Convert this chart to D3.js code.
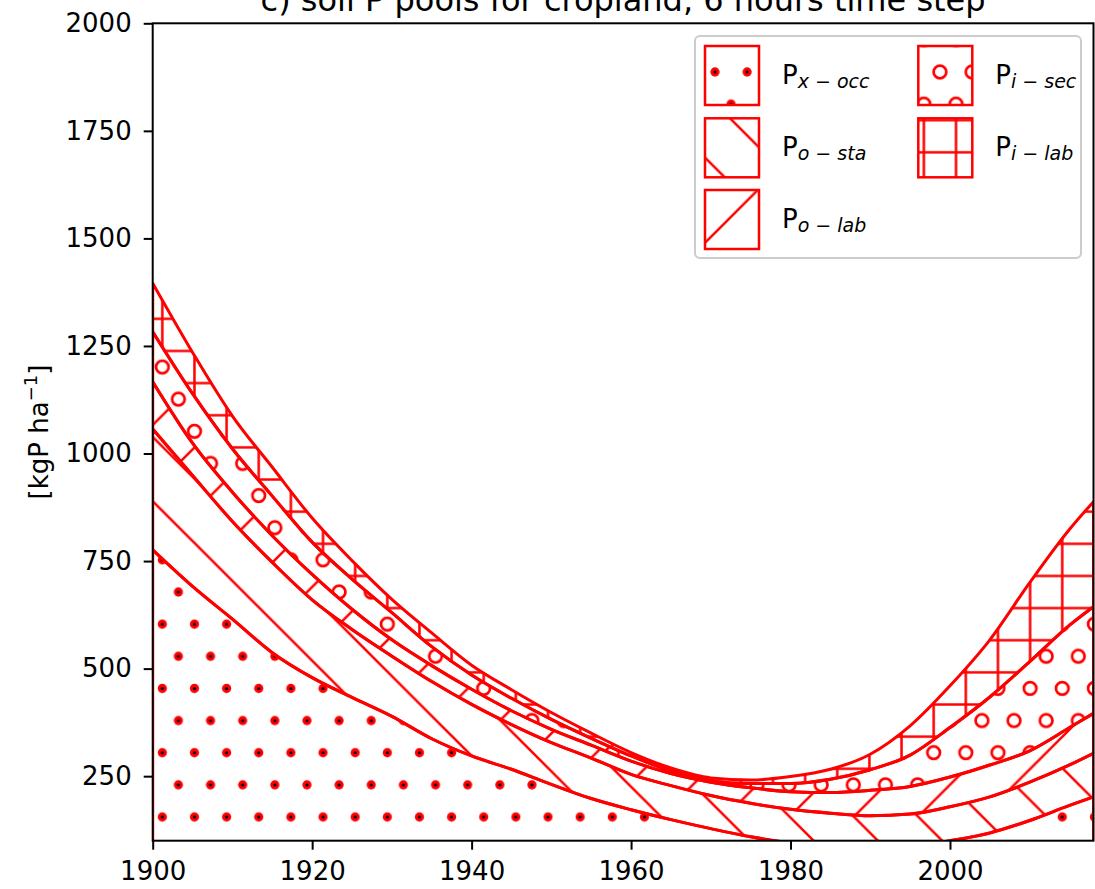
<!DOCTYPE html>
<html>
<head>
<meta charset="utf-8">
<script src="https://cdn.jsdelivr.net/npm/d3@7"></script>
<style>
body { margin: 0; background: #fff; }
svg { font-family: "DejaVu Sans", sans-serif; }
.sub { white-space: pre; }
</style>
</head>
<body>
<svg id="chart" width="1095" height="889"></svg>
<script>
// soil P pools for cropland, kgP/ha
var years = [1900,1905,1910,1915,1920,1925,1930,1935,1940,1945,1950,1955,1960,
             1965,1970,1975,1980,1985,1990,1995,2000,2005,2010,2015,2018];
var xOcc = [776,691,615,537,479,433,389,337,297,266,231,198,172,149,128,109,95,85,82,86,100,118,147,182,202];
var oSta = [281,258,227,210,181,158,140,133,120,104,97,94,82,79,77,78,78,79,76,76,79,84,89,94,101];
var oLab = [110,75,68,62,59,47,38,37,35,32,31,30,31,28,31,36,41,48,59,64,69,74,73,87,93];
var iSec = [116,115,101,92,75,70,63,44,33,29,23,16,12,6,3,10,19,31,48,73,115,158,207,238,248];
var iLab = [113,96,76,67,56,43,31,32,23,20,16,12,8,7,7,8,16,23,36,68,97,133,184,223,244];

var keys = ["xOcc","oSta","oLab","iSec","iLab"];
var subs = ["x − occ","o − sta","o − lab","i − sec","i − lab"];
var xTicks = [1900,1920,1940,1960,1980,2000];
var yTicks = [250,500,750,1000,1250,1500,1750,2000];

var red = "#ff0000";
var s = 32.14;
var hw = 2.5;

var svg = d3.select("#chart");
var defs = svg.append("defs");

var x = d3.scaleLinear().domain([1900,2018]).range([152.7,1093.5]);
var y = d3.scaleLinear().domain([100,2000]).range([840.7,23.3]);

function addPatterns(id, ox, oy){
  var p = defs.append("pattern").attr("id",id+"xOcc").attr("patternUnits","userSpaceOnUse")
    .attr("x",ox).attr("y",oy).attr("width",s).attr("height",2*s);
  [[0,0],[s,0],[0,2*s],[s,2*s],[s/2,s]].forEach(function(c){
    p.append("circle").attr("cx",c[0]).attr("cy",c[1]).attr("r",4.6).attr("fill",red);
    p.append("circle").attr("cx",c[0]).attr("cy",c[1]).attr("r",1.6).attr("fill","#000");
  });

  p = defs.append("pattern").attr("id",id+"iSec").attr("patternUnits","userSpaceOnUse")
    .attr("x",ox).attr("y",oy).attr("width",s).attr("height",2*s);
  [[0,0],[s,0],[0,2*s],[s,2*s],[s/2,s]].forEach(function(c){
    p.append("circle").attr("cx",c[0]).attr("cy",c[1]).attr("r",6.3)
      .attr("fill","none").attr("stroke",red).attr("stroke-width",2.7);
  });

  p = defs.append("pattern").attr("id",id+"iLab").attr("patternUnits","userSpaceOnUse")
    .attr("x",ox).attr("y",oy).attr("width",s).attr("height",s);
  p.append("path").attr("d","M"+s/2+",-1V"+(s+1)+"M-1,"+s/2+"H"+(s+1))
    .attr("stroke",red).attr("stroke-width",hw);

  var t = 2*s;
  var cb = oy - ox + 31.3;
  p = defs.append("pattern").attr("id",id+"oSta").attr("patternUnits","userSpaceOnUse")
    .attr("x",0).attr("y",cb).attr("width",t).attr("height",t);
  p.append("path").attr("d","M-3,-3L"+(t+3)+","+(t+3)+"M-3,"+(t-3)+"L3,"+(t+3)+"M"+(t-3)+",-3L"+(t+3)+",3")
    .attr("stroke",red).attr("stroke-width",hw);

  var cs = ox + oy + 32.3;
  p = defs.append("pattern").attr("id",id+"oLab").attr("patternUnits","userSpaceOnUse")
    .attr("x",0).attr("y",cs - t).attr("width",t).attr("height",t);
  p.append("path").attr("d","M-3,"+(t+3)+"L"+(t+3)+",-3M-3,3L3,-3M"+(t-3)+","+(t+3)+"L"+(t+3)+","+(t-3))
    .attr("stroke",red).attr("stroke-width",hw);
}
addPatterns("plot", 17.7, 13.5);
addPatterns("leg", 7.9, 7.7);

defs.append("clipPath").attr("id","clip").append("rect")
  .attr("x",152.7).attr("y",23.3).attr("width",940.8).attr("height",817.4);

var rows = years.map(function(yr,i){
  return {year:yr, xOcc:xOcc[i], oSta:oSta[i], oLab:oLab[i], iSec:iSec[i], iLab:iLab[i]};
});
var series = d3.stack().keys(keys)(rows);

var area = d3.area()
  .x(function(d){ return x(d.data.year); })
  .y0(function(d){ return y(d[0]); })
  .y1(function(d){ return y(d[1]); })
  .curve(d3.curveMonotoneX);

var plot = svg.append("g").attr("clip-path","url(#clip)");
plot.selectAll("path.layer").data(series).enter().append("path")
  .attr("class","layer")
  .attr("d",area)
  .attr("fill",function(d){ return "url(#plot"+d.key+")"; })
  .attr("stroke",red)
  .attr("stroke-width",3)
  .attr("stroke-linejoin","round");

// axes
var xAxis = svg.append("g").attr("transform","translate(0,840.7)")
  .call(d3.axisBottom(x).tickValues(xTicks).tickFormat(d3.format("d")).tickSize(9).tickPadding(12));
var yAxis = svg.append("g").attr("transform","translate(152.7,0)")
  .call(d3.axisLeft(y).tickValues(yTicks).tickFormat(d3.format("d")).tickSize(9).tickPadding(12));
[xAxis, yAxis].forEach(function(a){
  a.select(".domain").remove();
  a.selectAll(".tick line").attr("stroke","#000").attr("stroke-width",2);
  a.selectAll(".tick text").attr("fill","#000").style("font-size","26px")
    .style("font-family","DejaVu Sans");
});

svg.append("rect").attr("x",152.7).attr("y",23.3).attr("width",940.8).attr("height",817.4)
  .attr("fill","none").attr("stroke","#000").attr("stroke-width",2);

svg.append("text").attr("x",623.1).attr("y",11).attr("text-anchor","middle")
  .style("font-size","32px").text("c) soil P pools for cropland, 6 hours time step");

var yl = svg.append("text").attr("transform","translate(48,432) rotate(-90)")
  .attr("text-anchor","middle").style("font-size","26px");
yl.append("tspan").text("[kgP ha");
yl.append("tspan").attr("dy",-11).style("font-size","18px").text("−1");
yl.append("tspan").attr("dy",11).text("]");

// legend
svg.append("rect").attr("x",695).attr("y",36).attr("width",386).attr("height",222)
  .attr("rx",5).attr("fill","#fff").attr("fill-opacity",0.8)
  .attr("stroke","#cccccc").attr("stroke-width",2);

var slots = [[705,46],[705,118.3],[705,190],[918.3,46],[918.3,118.3]];
keys.forEach(function(k,i){
  var px = slots[i][0], py = slots[i][1];
  svg.append("rect").attr("x",px).attr("y",py).attr("width",54).attr("height",59)
    .attr("fill","url(#leg"+k+")").attr("stroke",red).attr("stroke-width",2.5);
  var t = svg.append("text").attr("x",px+77).attr("y",py+37.5).style("font-size","26px");
  t.append("tspan").text("P");
  var parts = subs[i].split(" − ");
  t.append("tspan").attr("dy",4).style("font-size","19px").style("font-style","italic").text(parts[0]);
  t.append("tspan").attr("class","sub").style("font-size","19px").text(" − ");
  t.append("tspan").style("font-size","19px").style("font-style","italic").text(parts[1]);
});
</script>
</body>
</html>
